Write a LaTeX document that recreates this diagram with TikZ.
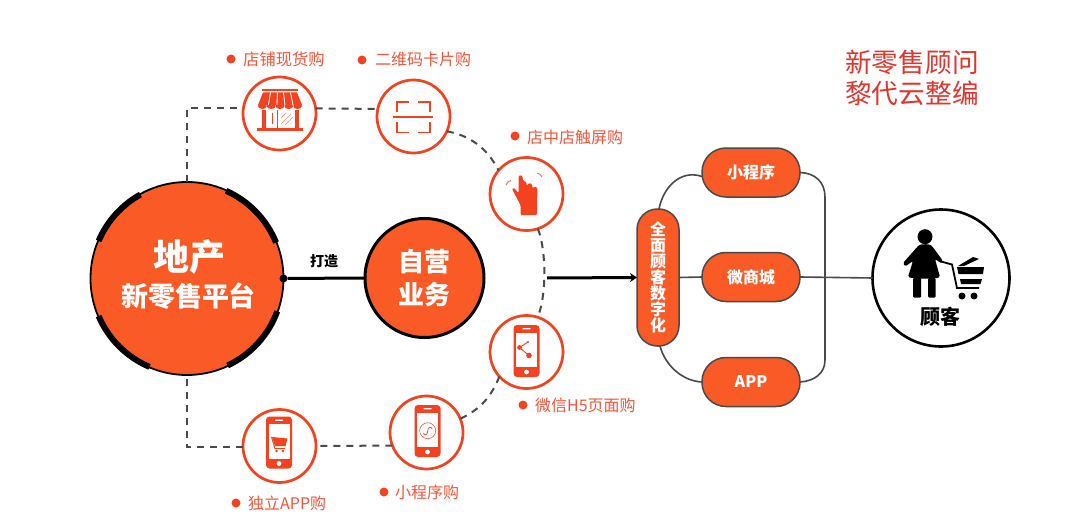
\documentclass[tikz,border=0pt]{standalone}
\usepackage{fontspec}
\setmainfont{Noto Sans CJK SC}
\newfontfamily\lightcjk{Noto Sans CJK SC}
\usetikzlibrary{arrows.meta}
\definecolor{mainor}{HTML}{FA5A26}
\definecolor{iconred}{HTML}{F2421F}
\definecolor{labelred}{HTML}{F4553A}
\definecolor{darkline}{HTML}{4A4A4A}
\definecolor{titlered}{HTML}{E0342C}
\newcommand{\fsz}[1]{\fontsize{#1}{#1}\selectfont}
\newcommand{\phoneicon}[2]{%
 \begin{scope}[shift={(#1,#2)}]
  \fill[iconred,rounded corners=3.5] (-13,-26) rectangle (13,26);
  \fill[white] (-10.5,-18.5) rectangle (10.5,16);
  \fill[white,rounded corners=.5] (-4,-23) rectangle (4,-21.6);
  \fill[white] (0,21) circle (2.4);
 \end{scope}}
\tikzset{
 icircle/.style={circle,draw=iconred,line width=2.7pt,fill=white,minimum size=73pt,inner sep=0,outer sep=0},
 dashline/.style={draw=darkline,line width=2pt,dash pattern=on 7pt off 6pt},
 grayline/.style={draw=darkline,line width=1.6pt},
 blackline/.style={draw=black,line width=3pt},
 pillbox/.style={draw=darkline,line width=1.5pt,fill=mainor,rounded corners=24,minimum width=98pt,minimum height=49pt,inner sep=0,outer sep=0,text=white,font=\bfseries\fsz{16}},
 lab/.style={text=labelred,font=\fsz{16},anchor=west,inner sep=0},
 bullet/.style={circle,fill=iconred,minimum size=9pt,inner sep=0,outer sep=0},
 orbig/.style={circle,draw=black,fill=mainor,text=white,inner sep=0,outer sep=0,align=center,font=\bfseries},
 ontext/.style={text=white,inner sep=0,font=\bfseries},
}
\begin{document}
\begin{tikzpicture}[x=1pt,y=-1pt]
\useasboundingbox (0,0) rectangle (1080,527);
% main nodes
\node[orbig,line width=1.8pt,minimum size=193pt] (main) at (187,278.5) {};
\node[ontext,font=\bfseries\fsz{36}] (mt1) at (189,256.5) {地产};
\node[ontext,font=\bfseries\fsz{27}] (mt2) at (188.5,296) {新零售平台};
\foreach \a/\b in {-66/-22,-157/-119,113/157,20/65}{
 \draw[line width=6pt,black] ({187+96*cos(\a)},{278.5+96*sin(\a)}) arc[start angle=\a,end angle=\b,radius=96];
}
\node[orbig,line width=3pt,minimum size=119pt] (self) at (424.5,278)
  {\fsz{26}自营\\[8pt]\fsz{26}业务};
\node[icircle] (shop) at (279.5,113.5) {};
\node[icircle] (qr) at (413.5,116.5) {};
\node[icircle] (touch) at (526.5,194) {};
\node[icircle] (share) at (526.5,352) {};
\node[icircle] (mini) at (426.5,432.5) {};
\node[icircle] (app) at (279.5,446) {};
\coordinate (tick) at (547,278);
% dashed orbit
\draw[dashline] (main.north) |- (shop.172);
\draw[dashline] (shop.8) -- (qr.168);
\draw[dashline] (qr.-24) .. controls (468,135) and (487,147) .. (touch.140);
\draw[dashline] (touch.-72) .. controls (545,245) and (548,290) .. (share.72);
\draw[dashline] (share.222) .. controls (490,400) and (478,410) .. (mini.22);
\draw[dashline] (mini.201) -- (app.0);
\draw[dashline] (app.182) -| (main.south);
% main connector
\node[circle,fill=black,minimum size=8pt,inner sep=0] (dot) at (main.east) {};
\draw[blackline] (dot) -- (self.west);
\node[font=\bfseries\fsz{14}] (dz) at (324,261) {打造};
% pills
\node[draw=darkline,line width=1.5pt,fill=mainor,rounded corners=20.5,minimum width=42pt,minimum height=137pt,inner sep=0,outer sep=0,text=white,align=center,font=\bfseries\fsz{16}] (full) at (658,277.5)
  {全\\面\\顾\\客\\数\\字\\化};
\draw[line width=3pt,-{Stealth[length=7pt,width=9pt]}] (tick) -- (full.west);
\node[pillbox] (p1) at (751,172.5) {小程序};
\node[pillbox] (p2) at (751,277) {微商城};
\node[pillbox] (p3) at (751,382) {APP};
\node[circle,draw=black,line width=2.6pt,fill=white,minimum size=137pt,inner sep=0,outer sep=0] (cust) at (941,278) {};
\draw[grayline] ([xshift=1pt]full.north) .. controls (663,188) and (680,169) .. ([yshift=-4pt]p1.west);
\draw[grayline] (full.east) -- (p2.west);
\draw[grayline] ([xshift=2pt]full.south) .. controls (665,365) and (682,381) .. (p3.west);
\draw[grayline] (p1.east) .. controls (815,173) and (825,182) .. (825,197) -- (825,360) .. controls (825,373) and (815,381) .. (p3.east);
\draw[grayline] (p2.east) -- (cust.west);
% labels
\node[bullet] (b1) at (231,59) {}; \node[lab,font=\fsz{16.3}] (l1) at (243,59) {店铺现货购};
\node[bullet] (b2) at (362,60) {}; \node[lab] (l2) at (375,59) {二维码卡片购};
\node[bullet] (b3) at (515,136) {}; \node[lab] (l3) at (527,137) {店中店触屏购};
\node[bullet] (b4) at (523,405) {}; \node[lab] (l4) at (535,405) {微信H5页面购};
\node[bullet] (b5) at (384,492) {}; \node[lab] (l5) at (395,492) {小程序购};
\node[bullet] (b6) at (236,503) {}; \node[lab] (l6) at (248,503) {独立APP购};
\node[text=titlered,font=\lightcjk\fsz{26.7},anchor=west,inner sep=0,align=left] (t1) at (845,78) {新零售顾问\\[4pt]黎代云整编};
% shop icon
\begin{scope}[iconred]
 \fill (262,89) rectangle (298,91);
 \fill (263,92.5) -- (297,92.5) -- (302,105) -- (258,105) -- cycle;
 \foreach \i in {0,...,4}{\fill ({262.4+\i*8.8},106) circle[x radius=4.4,y radius=3];}
 \foreach \x/\y in {270/268,277/276.5,283/284.5,290/292.5}{\fill[white] (\x,92.5) -- (\x+.9,92.5) -- (\y+.9,105) -- (\y,105) -- cycle;}
 \fill (262,110) rectangle (265.5,128);
 \fill (295,110) rectangle (298.5,128);
 \fill (276.5,110) rectangle (278,128);
 \fill (257,128) rectangle (303,131);
 \draw[line width=.8pt] (272,113) -- (272,124);
 \draw[line width=.5pt,labelred!70] (281,124) -- (291,114) (285,125) -- (293,117) (281,118) -- (286,113);
 % qr icon
 \draw[line width=1.3pt] (397,112) -- (397,102) -- (409,102) (418,102) -- (430,102) -- (430,112)
   (397,122) -- (397,132.5) -- (409,132.5) (418,132.5) -- (430,132.5) -- (430,122);
 \draw[line width=1.6pt] (393,117) -- (433,117);
 % hand icon
 \fill[rounded corners=1.2] (520.5,215) -- (537,215) -- (537,205) -- (537.5,188) -- (534.5,186.5) -- (532.5,188.5) -- (532,184) -- (528.5,183) -- (527,186) -- (526,181.5) -- (523,181) -- (522.5,176) -- (520.5,175) -- (518.5,176) -- (518.5,193) -- (513.5,187.5) -- (512,189) -- (520.5,205) -- cycle;
 \draw[line width=1pt,labelred!80] (506,185) .. controls (507,182) and (509,181) .. (511,180.5);
 \draw[line width=1pt,labelred!80] (537,173) .. controls (539,173) and (541,175) .. (542,177);
\end{scope}
% phones
\phoneicon{526.5}{351}
\phoneicon{279}{442.5}
\phoneicon{427.5}{431}
\begin{scope}[iconred]
 \draw[line width=.9pt] (519.5,347.5) -- (528,342) (519.5,347.5) -- (529,355.5);
 \fill (519.5,347.5) circle (2.4) (529,355.5) circle (2.8) (528,342) circle (1.2);
 % cart
 \fill (272,437) -- (287.5,438.5) -- (285.5,446) -- (275,446) -- cycle;
 \draw[line width=1pt] (271.5,437) -- (275,448.5) -- (285,448.5);
 \fill (276.5,451) circle (1.3) (283,451) circle (1.3);
 % wechat mini
 \draw[line width=.6pt,labelred] (427.7,430.7) circle (8);
 \draw[line width=.8pt,labelred] (423.5,433) .. controls (424,436) and (428,435) .. (427.7,431) .. controls (427.5,427) and (431.5,426) .. (432,429);
\end{scope}
% customer figure
\begin{scope}[black]
 \fill (925,236.7) circle (7.5);
 \fill[rounded corners=1.5] (919,245) .. controls (923,244) and (929,244) .. (932,246) -- (943,261) -- (941.5,263.5) -- (935,259) -- (940,277) .. controls (935,279) and (915,279) .. (908,277) -- (913,261) -- (905,266.5) -- (903,263) -- cycle;
 \fill[rounded corners=1] (913,278) rectangle (921,297.5);
 \fill[rounded corners=1] (928,278) rectangle (935.5,297.5);
 \draw[line width=1.8pt] (941,261.5) -- (952,264.5) -- (957,288) -- (979,288);
 \fill (958,266) -- (973,257) -- (979,259) -- (964,266) -- cycle;
 \fill (957,267) -- (984,267) -- (983,274) -- (958.5,274) -- cycle;
 \fill (960,279) -- (982,279) -- (980.5,284) -- (961,284) -- cycle;
 \fill (962,296) circle (3.5) (974,296) circle (3.5);
\end{scope}
\node[font=\bfseries\fsz{20},inner sep=0] (gk) at (940,317) {顾客};
\end{tikzpicture}
\end{document}
